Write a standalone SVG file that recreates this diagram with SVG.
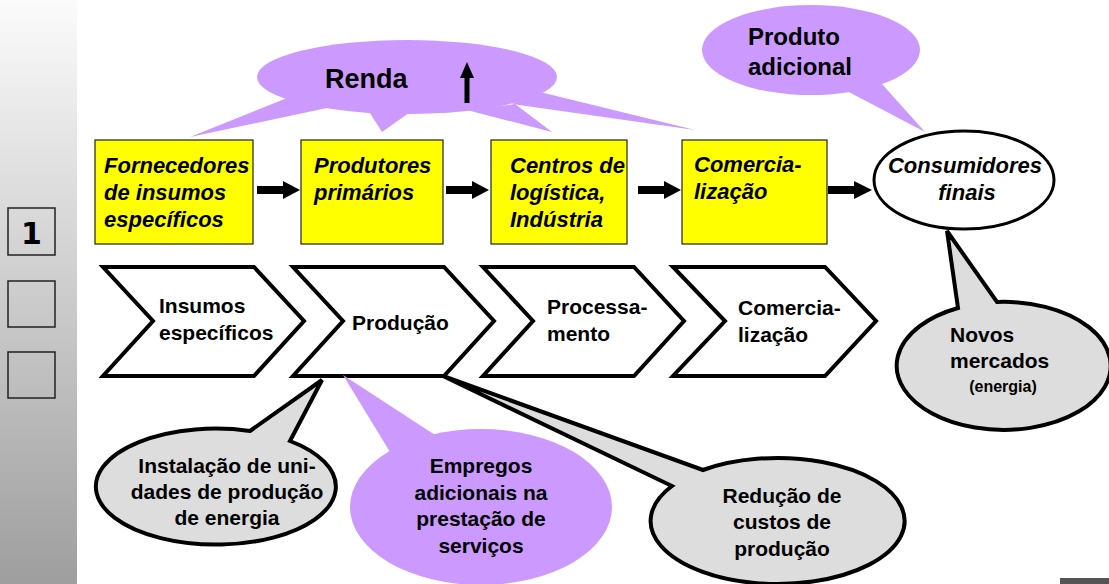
<svg xmlns="http://www.w3.org/2000/svg" width="1109" height="584" viewBox="0 0 1109 584">
<defs>
<linearGradient id="side" x1="0" y1="0" x2="0" y2="1">
<stop offset="0" stop-color="#fbfbfb"/>
<stop offset="1" stop-color="#9e9e9e"/>
</linearGradient>
</defs>
<style>
text{font-family:"Liberation Sans",Arial,sans-serif;font-weight:bold;fill:#000}
.it{font-style:italic;font-size:22px}
.ch{font-size:21px}
.bt{font-size:21px;text-anchor:middle}
.box{fill:#ffff00;stroke:#222;stroke-width:1.2}
.chev{fill:#fff;stroke:#000;stroke-width:4;stroke-linejoin:miter}
.purple{fill:#cc99ff;stroke:none}
.gray{fill:#dddddd;stroke:#000;stroke-width:4;stroke-linejoin:miter}
.arr{fill:#000}
.side{fill:none;stroke:#222;stroke-width:1.5}
</style>
<rect x="0" y="0" width="77" height="584" fill="url(#side)"/>
<g id="tab1"><rect x="8" y="208" width="47" height="47" fill="#fff" class="side"/><text x="31.5" y="244" font-size="30" text-anchor="middle" style="font-family:'DejaVu Sans',sans-serif;font-weight:900">1</text></g>
<g id="tab2"><rect x="8" y="281" width="47" height="46" class="side"/></g>
<g id="tab3"><rect x="8" y="352" width="47" height="46" class="side"/></g>
<rect x="1060" y="578" width="49" height="6" fill="#555"/>

<g id="renda">
<ellipse cx="407" cy="77" rx="150" ry="37" class="purple"/>
<polygon points="287,98 190,137 327,108" class="purple"/>
<polygon points="368,110 382,132 413,110" class="purple"/>
<polygon points="467,110 552,132 515,104" class="purple"/>
<polygon points="540,92 695,130 512,104" class="purple"/>
<text x="325" y="88" font-size="27">Renda</text>
<polygon points="464.5,103 469.5,103 469.5,78 474,78 467,62 460,78 464.5,78" class="arr"/>
</g>

<g id="produto">
<ellipse cx="811" cy="50" rx="109" ry="45" class="purple"/>
<polygon points="845,90 925,132 882,84" class="purple"/>
<text x="748" y="45" font-size="24">Produto</text>
<text x="748" y="75" font-size="24">adicional</text>
</g>

<g id="fornecedores"><rect x="95" y="140" width="158" height="104" class="box"/>
<text class="it" x="104" y="173">Fornecedores</text><text class="it" x="104" y="200">de insumos</text><text class="it" x="104" y="227">específicos</text></g>
<g id="produtores"><rect x="301" y="140" width="142" height="104" class="box"/>
<text class="it" x="314" y="173">Produtores</text><text class="it" x="314" y="200">primários</text></g>
<g id="centros"><rect x="491" y="140" width="136" height="104" class="box"/>
<text class="it" x="510" y="173">Centros de</text><text class="it" x="510" y="200">logística,</text><text class="it" x="510" y="227">Indústria</text></g>
<g id="comercializacao"><rect x="682" y="140" width="145" height="104" class="box"/>
<text class="it" x="694" y="172">Comercia-</text><text class="it" x="694" y="199">lização</text></g>
<g id="consumidores"><ellipse cx="964" cy="180" rx="90" ry="49" fill="#fff" stroke="#000" stroke-width="3"/>
<text class="it" x="965" y="173" text-anchor="middle">Consumidores</text><text class="it" x="967" y="200" text-anchor="middle">finais</text></g>

<g id="connectors">
<polygon points="257,186 283,186 283,181 300,190 283,199 283,194 257,194" class="arr"/>
<polygon points="446,186 472,186 472,181 489,190 472,199 472,194 446,194" class="arr"/>
<polygon points="638,186 664,186 664,181 681,190 664,199 664,194 638,194" class="arr"/>
<polygon points="828,186 854,186 854,181 872,190 854,199 854,194 828,194" class="arr"/>
</g>

<g id="chev1"><polygon points="103,267 254,267 304,321 254,376 103,376 153,321" class="chev"/>
<text class="ch" x="159" y="313">Insumos</text><text class="ch" x="159" y="340">específicos</text></g>
<g id="chev2"><polygon points="293,267 444,267 494,321 444,376 293,376 343,321" class="chev"/>
<text class="ch" x="352" y="330">Produção</text></g>
<g id="chev3"><polygon points="483,267 634,267 684,321 634,376 483,376 533,321" class="chev"/>
<text class="ch" x="547" y="314">Processa-</text><text class="ch" x="547" y="341">mento</text></g>
<g id="chev4"><polygon points="673,267 825,267 876,321 825,376 673,376 725,321" class="chev"/>
<text class="ch" x="738" y="315">Comercia-</text><text class="ch" x="738" y="342">lização</text></g>

<g id="novos"><path d="M958,308 L947,231 L997,302 A107 64 0 1 1 958,308 Z" class="gray"/>
<text class="ch" x="950" y="342">Novos</text><text class="ch" x="950" y="368">mercados</text><text x="1003" y="392" font-size="16" text-anchor="middle">(energia)</text></g>

<g id="instalacao"><path d="M250,431 L322,380 L290,441 A120 58 0 1 1 250,431 Z" class="gray"/>
<text class="bt" x="227" y="473">Instalação de uni-</text><text class="bt" x="227" y="499">dades de produção</text><text class="bt" x="227" y="525">de energia</text></g>

<g id="empregos"><ellipse cx="481" cy="507" rx="131" ry="78" class="purple"/>
<polygon points="390,452 343,375 435,435" class="purple"/>
<text class="bt" x="481" y="473">Empregos</text><text class="bt" x="481" y="500">adicionais na</text><text class="bt" x="481" y="526">prestação de</text><text class="bt" x="481" y="553">serviços</text></g>

<g id="reducao"><path d="M703,470 L443,376 L672,486 A127 63 0 1 0 703,470 Z" class="gray"/>
<text class="bt" x="782" y="503">Redução de</text><text class="bt" x="782" y="529">custos de</text><text class="bt" x="782" y="556">produção</text></g>
</svg>
